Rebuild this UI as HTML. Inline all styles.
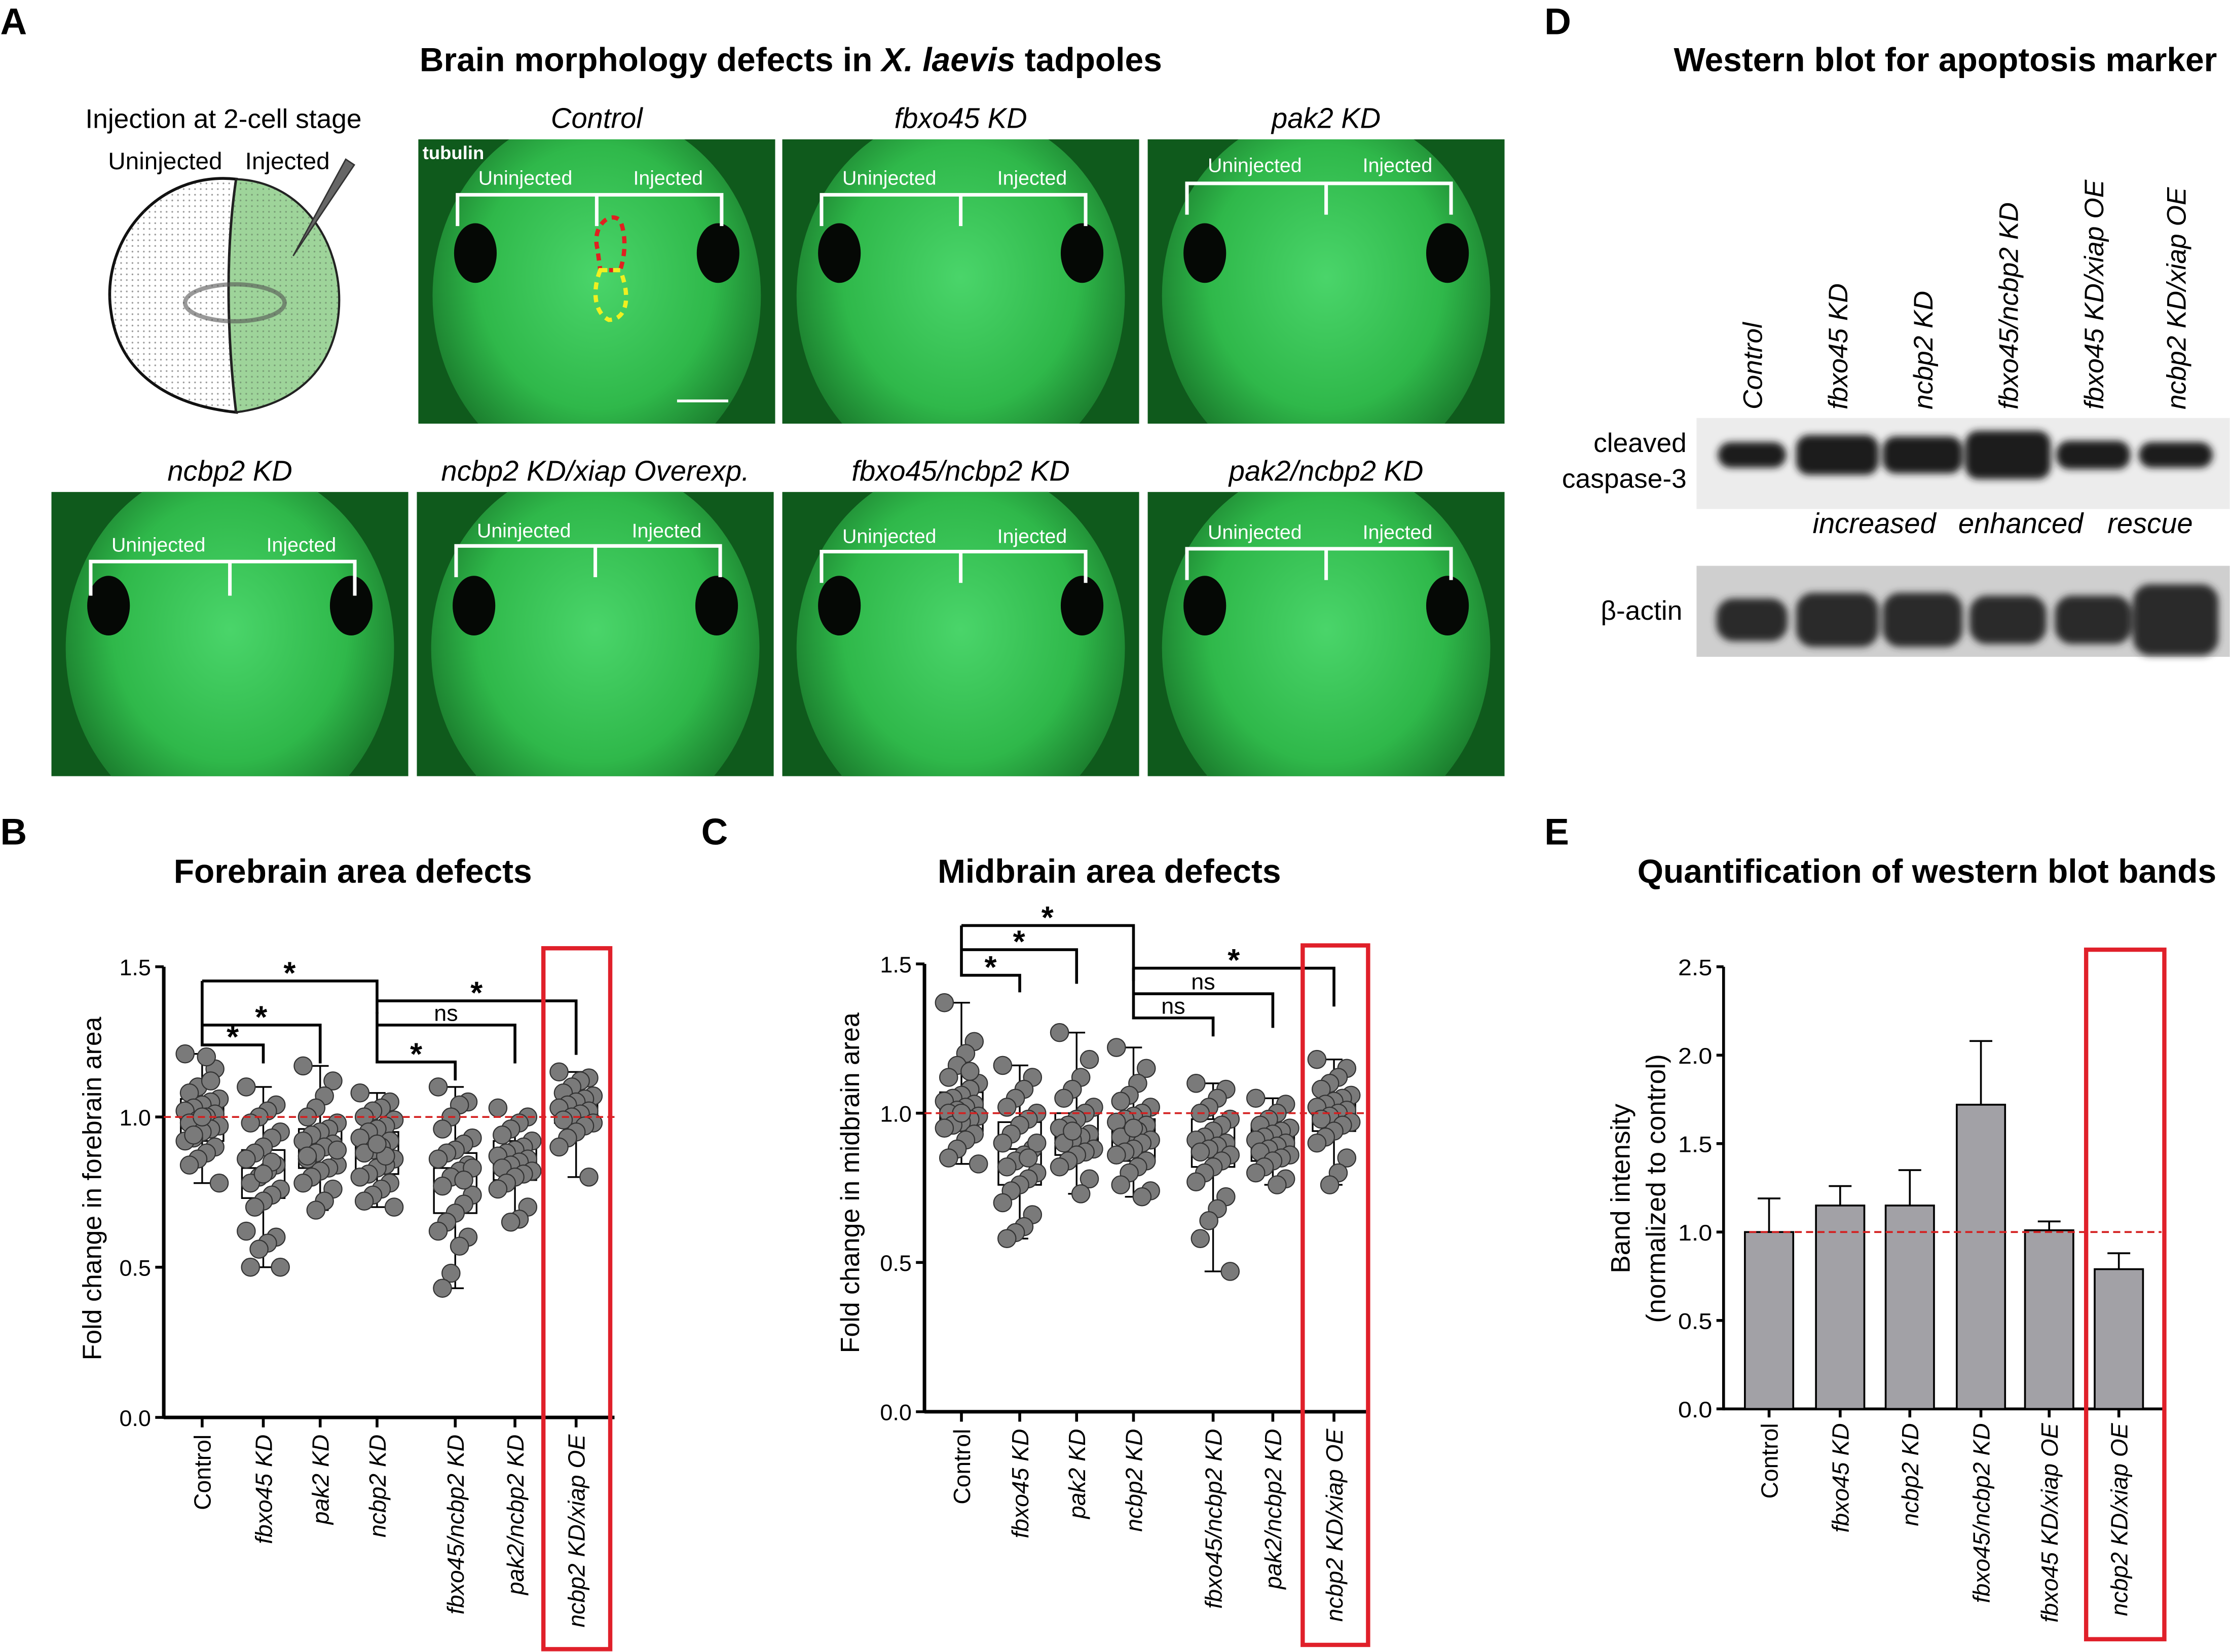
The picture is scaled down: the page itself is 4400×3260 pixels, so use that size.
<!DOCTYPE html>
<html><head><meta charset="utf-8">
<style>
html,body{margin:0;padding:0;background:#fff}
svg{display:block}
text{font-family:"Liberation Sans",sans-serif;fill:#000}
.it{font-style:italic}
.b{font-weight:bold}
</style></head>
<body>
<svg id="fig" width="4400" height="3260" viewBox="0 0 1568 1162" xmlns="http://www.w3.org/2000/svg">
<defs>
<radialGradient id="gh" cx="50%" cy="45%" r="55%">
<stop offset="0" stop-color="#4ad56a"/><stop offset="0.65" stop-color="#2fb84a"/><stop offset="1" stop-color="#1a7a2c"/>
</radialGradient>
<pattern id="dots" width="4" height="4" patternUnits="userSpaceOnUse"><circle cx="1" cy="1" r="0.6" fill="#333"/></pattern>
<filter id="blur" x="-20%" y="-50%" width="140%" height="200%"><feGaussianBlur stdDeviation="2.5"/></filter>
</defs>
<g id="panelA">
<text x="0" y="24" font-size="26" class="b">A</text>
<text x="556" y="50" font-size="23.5" class="b" text-anchor="middle">Brain morphology defects in <tspan class="it">X. laevis</tspan> tadpoles</text>
<text x="157" y="90" font-size="19" text-anchor="middle">Injection at 2-cell stage</text>
<text x="116" y="119" font-size="17" text-anchor="middle">Uninjected</text>
<text x="202" y="119" font-size="17" text-anchor="middle">Injected</text>
<g>
<path d="M166,126 C110,120 70,170 78,220 C84,262 118,285 166,290 C160,240 158,180 166,126 Z" fill="#fff" stroke="#111" stroke-width="2"/>
<path d="M166,126 C110,120 70,170 78,220 C84,262 118,285 166,290 C160,240 158,180 166,126 Z" fill="url(#dots)" opacity="0.5"/>
<path d="M166,126 C215,128 242,175 238,220 C234,262 205,285 166,290 C160,240 158,180 166,126 Z" fill="#9ed49a" stroke="#222" stroke-width="1.5"/>
<path d="M166,126 C215,128 242,175 238,220 C234,262 205,285 166,290 C160,240 158,180 166,126 Z" fill="url(#dots)" opacity="0.35"/>
<ellipse cx="165" cy="213" rx="35" ry="13" fill="none" stroke="#555" stroke-width="3" opacity="0.6"/>
<polygon points="206,180 243,112 249,116" fill="#666" stroke="#333" stroke-width="1"/>
</g>
</g>
<g id="micros"></g>
<g id="panelD">
<text x="1086" y="24" font-size="26" class="b">D</text>
<text x="1368" y="50" font-size="23.5" class="b" text-anchor="middle">Western blot for apoptosis marker</text>
<g id="lanes"></g>
<rect x="1193" y="294" width="375" height="64" fill="#ececec"/>
<rect x="1193" y="398" width="375" height="64" fill="#cfcfcf"/>
<g id="bands" filter="url(#blur)"></g>
<text x="1186" y="318" font-size="19" text-anchor="end">cleaved</text>
<text x="1186" y="343" font-size="19" text-anchor="end">caspase-3</text>
<text x="1183" y="436" font-size="19" text-anchor="end">β-actin</text>
<text x="1318" y="375" font-size="20" class="it" text-anchor="middle">increased</text>
<text x="1421" y="375" font-size="20" class="it" text-anchor="middle">enhanced</text>
<text x="1512" y="375" font-size="20" class="it" text-anchor="middle">rescue</text>
</g>
<g id="chartB"></g>
<g id="chartC"></g>
<g id="chartE"></g>
</svg>
<script>
// ---------- DATA ----------
const catsBC = ["Control","fbxo45 KD","pak2 KD","ncbp2 KD","fbxo45/ncbp2 KD","pak2/ncbp2 KD","ncbp2 KD/xiap OE"];
const foreMin = [0.78,0.50,0.69,0.70,0.43,0.65,0.80];
const foreQ1  = [0.92,0.73,0.83,0.81,0.68,0.79,0.98];
const foreMed = [1.00,0.83,0.90,0.88,0.83,0.85,1.01];
const foreQ3  = [1.06,0.89,0.96,0.95,0.88,0.92,1.05];
const foreMax = [1.21,1.10,1.17,1.08,1.10,1.00,1.15];
const forePts = [
 [1.21,1.16,1.2,1.1,1.08,1.06,1.05,1.04,1.03,1.02,1.01,1.0,0.99,0.98,0.97,0.96,0.95,0.93,0.92,0.9,0.88,0.86,0.84,0.78,1.12,1.0,0.94],
 [1.1,1.04,1.02,1.0,0.98,0.95,0.93,0.9,0.88,0.86,0.84,0.82,0.8,0.78,0.76,0.74,0.72,0.7,0.62,0.6,0.58,0.56,0.5,0.5,0.85,0.81],
 [1.17,1.12,1.07,1.03,1.0,0.98,0.96,0.95,0.94,0.92,0.91,0.9,0.88,0.86,0.84,0.83,0.82,0.8,0.78,0.76,0.72,0.69,0.87,0.89],
 [1.08,1.05,1.03,1.02,1.0,0.99,0.97,0.96,0.95,0.93,0.92,0.9,0.89,0.88,0.86,0.84,0.83,0.81,0.8,0.78,0.76,0.74,0.72,0.7,0.87,0.91],
 [1.1,1.05,1.04,1.0,0.96,0.93,0.91,0.89,0.88,0.86,0.84,0.82,0.8,0.77,0.74,0.71,0.68,0.65,0.62,0.6,0.57,0.48,0.43,0.83,0.79],
 [1.03,1.0,0.98,0.96,0.94,0.92,0.9,0.89,0.88,0.87,0.86,0.85,0.84,0.83,0.82,0.81,0.8,0.78,0.76,0.7,0.66,0.65],
 [1.15,1.13,1.12,1.1,1.08,1.07,1.06,1.05,1.04,1.03,1.02,1.01,1.0,0.99,0.98,0.97,0.95,0.93,0.9,0.8]
];
const midMin = [0.83,0.58,0.73,0.72,0.47,0.76,0.76];
const midQ1  = [0.94,0.76,0.86,0.84,0.82,0.84,0.94];
const midMed = [1.0,0.88,0.92,0.92,0.9,0.9,1.0];
const midQ3  = [1.07,0.97,1.0,0.98,0.98,0.96,1.04];
const midMax = [1.37,1.16,1.27,1.22,1.1,1.05,1.18];
const midPts = [
 [1.37,1.24,1.2,1.16,1.12,1.1,1.08,1.06,1.05,1.04,1.03,1.02,1.01,1.0,0.99,0.98,0.97,0.96,0.95,0.93,0.91,0.88,0.85,0.83,1.14,1.0],
 [1.16,1.12,1.08,1.05,1.02,1.0,0.98,0.96,0.93,0.9,0.88,0.86,0.84,0.82,0.8,0.78,0.76,0.74,0.7,0.66,0.62,0.6,0.58,0.9,0.85],
 [1.27,1.18,1.12,1.08,1.05,1.02,1.0,0.98,0.96,0.95,0.93,0.92,0.91,0.9,0.88,0.87,0.86,0.84,0.82,0.78,0.73,0.94],
 [1.22,1.15,1.1,1.06,1.04,1.02,1.0,0.99,0.98,0.97,0.96,0.94,0.93,0.92,0.91,0.9,0.88,0.87,0.86,0.84,0.82,0.8,0.76,0.74,0.72,0.95],
 [1.1,1.08,1.05,1.02,1.0,0.98,0.96,0.94,0.92,0.91,0.9,0.89,0.88,0.87,0.86,0.84,0.82,0.8,0.77,0.72,0.68,0.64,0.58,0.47],
 [1.05,1.03,1.0,0.98,0.96,0.95,0.94,0.93,0.92,0.91,0.9,0.89,0.88,0.87,0.86,0.85,0.84,0.82,0.8,0.78,0.76],
 [1.18,1.15,1.12,1.1,1.08,1.06,1.05,1.04,1.03,1.02,1.01,1.0,0.99,0.98,0.97,0.96,0.94,0.92,0.9,0.85,0.8,0.76]
];
const catsE = ["Control","fbxo45 KD","ncbp2 KD","fbxo45/ncbp2 KD","fbxo45 KD/xiap OE","ncbp2 KD/xiap OE"];
const barVals = [1.0,1.15,1.15,1.72,1.01,0.79];
const barErr  = [0.19,0.11,0.20,0.36,0.05,0.09];
const ticksBC = [0,0.5,1.0,1.5];
const tickLabelsBC = ["0.0","0.5","1.0","1.5"];
const ticksE = [0,0.5,1.0,1.5,2.0,2.5];
const tickLabelsE = ["0.0","0.5","1.0","1.5","2.0","2.5"];
const sigB = [[0,1,"*"],[0,2,"*"],[0,3,"*"],[3,4,"*"],[3,5,"ns"],[3,6,"*"]];
const sigC = [[0,1,"*"],[0,2,"*"],[0,3,"*"],[3,4,"ns"],[3,5,"ns"],[3,6,"*"]];

const NS="http://www.w3.org/2000/svg";
function mk(parent,tag,attrs,txt){const e=document.createElementNS(NS,tag);for(const k in attrs)e.setAttribute(k,attrs[k]);if(txt!==undefined)e.textContent=txt;parent.appendChild(e);return e;}

// ---------- micrographs ----------
const micros=document.getElementById('micros');
const defs=document.querySelector('defs');
const mic=[
 {x:294,y:98,w:251,h:200,t:"Control",by:137,bh:22,lab:130},
 {x:550,y:98,w:251,h:200,t:"fbxo45 KD",by:137,bh:22,lab:130},
 {x:807,y:98,w:251,h:200,t:"pak2 KD",by:129,bh:22,lab:121},
 {x:36,y:346,w:251,h:200,t:"ncbp2 KD",by:395,bh:24,lab:388},
 {x:293,y:346,w:251,h:200,t:"ncbp2 KD/xiap Overexp.",by:384,bh:22,lab:378},
 {x:550,y:346,w:251,h:200,t:"fbxo45/ncbp2 KD",by:388,bh:22,lab:382},
 {x:807,y:346,w:251,h:200,t:"pak2/ncbp2 KD",by:386,bh:22,lab:379}
];
mic.forEach((m,i)=>{
 const cp=mk(defs,'clipPath',{id:'cp'+i});
 mk(cp,'rect',{x:m.x,y:m.y,width:m.w,height:m.h});
 const g=mk(micros,'g',{"clip-path":`url(#cp${i})`});
 
 
 mk(g,'rect',{x:m.x,y:m.y,width:m.w,height:m.h,fill:"#0f5a1c"});
 mk(g,'ellipse',{cx:m.x+m.w/2,cy:m.y+m.h*0.55,rx:m.w*0.46,ry:m.h*0.65,fill:"url(#gh)"});
 mk(g,'ellipse',{cx:m.x+m.w*0.16,cy:m.y+m.h*0.4,rx:15,ry:21,fill:"#050805"});
 mk(g,'ellipse',{cx:m.x+m.w*0.84,cy:m.y+m.h*0.4,rx:15,ry:21,fill:"#050805"});
 mk(g,'path',{d:`M${m.x+m.w*0.11},${m.by+m.bh} V${m.by} H${m.x+m.w*0.85} V${m.by+m.bh} M${m.x+m.w*0.5},${m.by} V${m.by+m.bh}`,stroke:"#fff","stroke-width":2.5,fill:"none"});
 mk(g,'text',{x:m.x+m.w*0.3,y:m.lab,"font-size":14,"text-anchor":"middle",style:"fill:#fff"},"Uninjected");
 mk(g,'text',{x:m.x+m.w*0.7,y:m.lab,"font-size":14,"text-anchor":"middle",style:"fill:#fff"},"Injected");
 const t=mk(micros,'text',{x:m.x+m.w/2,y:m.y-8,"font-size":20,"text-anchor":"middle",class:"it"},m.t);
 
 
});
mk(micros,'text',{x:297,y:112,"font-size":13,class:"b",style:"fill:#fff"},"tubulin");
mk(micros,'line',{x1:476,y1:282,x2:512,y2:282,stroke:"#fff","stroke-width":2});
mk(micros,'path',{d:"M420,175 C416,160 428,148 436,155 C440,165 440,178 436,190 L422,190 Z",fill:"none",stroke:"#e02020","stroke-width":3,"stroke-dasharray":"5,4"});
mk(micros,'path',{d:"M422,190 C416,205 418,220 428,225 C440,225 444,210 436,190 Z",fill:"none",stroke:"#f0f020","stroke-width":3,"stroke-dasharray":"5,4"});

// ---------- western ----------
const laneX=[1232,1292,1352,1412,1472,1530];
const lanes=document.getElementById('lanes'), bands=document.getElementById('bands');
const bandW=[48,58,56,60,52,52], bandH=[18,28,26,34,20,18], actW=[50,58,56,54,54,60], actH=[30,38,38,34,34,50];
catsE.forEach((c,i)=>{
 const t=mk(lanes,'text',{x:0,y:0,"font-size":19,class:"it",transform:`translate(${laneX[i]+7},288) rotate(-90)`},c);
 
 
 mk(bands,'rect',{x:laneX[i]-bandW[i]/2,y:320-bandH[i]/2,width:bandW[i],height:bandH[i],rx:9,fill:"#1a1a1a"});
 mk(bands,'rect',{x:laneX[i]-actW[i]/2,y:436-actH[i]/2,width:actW[i],height:actH[i],rx:12,fill:"#2a2a2a"});
});

// ---------- box charts ----------
function boxChart(gid,o){
 const g=document.getElementById(gid);
 const y=v=>o.y0-(v/1.5)*(o.y0-o.y15);
 const x=i=>o.xs[i];
 mk(g,'text',{x:o.lx,y:594,"font-size":26,class:"b"},o.letter);
 mk(g,'text',{x:o.tx,y:621,"font-size":23.5,class:"b","text-anchor":"middle"},o.title);
 const yt=mk(g,'text',{x:0,y:0,"font-size":18.5,"text-anchor":"middle",transform:`translate(${o.ylx},${o.ylY}) rotate(-90)`},o.ylabel);
 
 
 mk(g,'line',{x1:o.ax,y1:o.y15,x2:o.ax,y2:o.y0+1,stroke:"#000","stroke-width":2.5});
 mk(g,'line',{x1:o.ax,y1:o.y0,x2:o.xend,y2:o.y0,stroke:"#000","stroke-width":2.5});
 ticksBC.forEach((t,i)=>{
  mk(g,'line',{x1:o.ax-6,y1:y(t),x2:o.ax,y2:y(t),stroke:"#000","stroke-width":2});
  mk(g,'text',{x:o.ax-9,y:y(t)+6,"font-size":16,"text-anchor":"end"},tickLabelsBC[i]);
 });
 catsBC.forEach((c,i)=>{
  mk(g,'line',{x1:x(i),y1:o.y0,x2:x(i),y2:o.y0+7,stroke:"#000","stroke-width":2});
  const t=mk(g,'text',{x:0,y:0,"font-size":16.5,"text-anchor":"end",class:i==0?"":"it",transform:`translate(${x(i)+6},${o.y0+12}) rotate(-90)`},c);
  
  
  const bg=mk(g,'g',{});
  
  
  mk(bg,'line',{x1:x(i),y1:y(o.mn[i]),x2:x(i),y2:y(o.mx[i]),stroke:"#000","stroke-width":1.2});
  mk(bg,'line',{x1:x(i)-6,y1:y(o.mn[i]),x2:x(i)+6,y2:y(o.mn[i]),stroke:"#000","stroke-width":1.2});
  mk(bg,'line',{x1:x(i)-6,y1:y(o.mx[i]),x2:x(i)+6,y2:y(o.mx[i]),stroke:"#000","stroke-width":1.2});
  mk(bg,'rect',{x:x(i)-15,y:y(o.q3[i]),width:30,height:y(o.q1[i])-y(o.q3[i]),fill:"#fff",stroke:"#000","stroke-width":1.2});
  mk(bg,'line',{x1:x(i)-15,y1:y(o.md[i]),x2:x(i)+15,y2:y(o.md[i]),stroke:"#000","stroke-width":1.2});
  o.pts[i].forEach((v,k)=>{
   const off=((k*7)%9-4)*3.0;
   const p=mk(bg,'circle',{cx:x(i)+off,cy:y(v),r:6.3,fill:"#7a7a7a",stroke:"#333","stroke-width":0.8});
   
   
  });
 });
 mk(g,'line',{x1:o.ax,y1:y(1),x2:o.xend,y2:y(1),stroke:"#d42020","stroke-width":1.3,"stroke-dasharray":"5,3"});
 o.sig.forEach((s,k)=>{
  const yy=o.sigY[k];
  mk(g,'path',{d:`M${x(s[0])},${yy+o.drop[k][0]} V${yy} H${x(s[1])} V${yy+o.drop[k][1]}`,fill:"none",stroke:"#000","stroke-width":2});
  mk(g,'text',{x:(x(s[0])+x(s[1]))/2,y:s[2]=="*"?yy+2:yy-3,"font-size":s[2]=="*"?22:16,"text-anchor":"middle",class:s[2]=="*"?"b":""},s[2]);
 });
 const rb=mk(g,'rect',{x:o.rb[0],y:o.rb[1],width:o.rb[2],height:o.rb[3],fill:"none",stroke:"#e0202a","stroke-width":3});
 
 
}
boxChart('chartB',{letter:"B",lx:0,tx:248,title:"Forebrain area defects",ylabel:"Fold change in forebrain area",ylx:71,ylY:836,
 ax:115,y0:997,y15:680,xend:432,xs:[142,185,225,265,320,362,405],
 mn:foreMin,q1:foreQ1,md:foreMed,q3:foreQ3,mx:foreMax,pts:forePts,sig:sigB,
 sigY:[735,721,690,747,721,704],drop:[[-45,13],[0,27],[0,23],[-35,13],[0,27],[0,38]],rb:[382,667,47,493]});
boxChart('chartC',{letter:"C",lx:493,tx:780,title:"Midbrain area defects",ylabel:"Fold change in midbrain area",ylx:604,ylY:832,
 ax:650,y0:993,y15:678,xend:962,xs:[676,717,757,797,853,895,938],
 mn:midMin,q1:midQ1,md:midMed,q3:midQ3,mx:midMax,pts:midPts,sig:sigC,
 sigY:[686,668,651,716,699,681],drop:[[-35,12],[0,24],[0,39],[-35,13],[0,24],[0,27]],rb:[916,665,46,492]});

// ---------- bar chart E ----------
(function(){
 const g=document.getElementById('chartE');
 const ax=1212,y0=991,yT=680;
 const y=v=>y0-(v/2.5)*(y0-yT);
 const xs=[1244,1294,1343,1393,1441,1490];
 mk(g,'text',{x:1086,y:594,"font-size":26,class:"b"},"E");
 mk(g,'text',{x:1355,y:621,"font-size":23.5,class:"b","text-anchor":"middle"},"Quantification of western blot bands");
 const t1=mk(g,'text',{x:0,y:0,"font-size":19,"text-anchor":"middle",transform:"translate(1146,836) rotate(-90)"},"Band intensity");
 
 
 mk(g,'text',{x:0,y:0,"font-size":19,"text-anchor":"middle",transform:"translate(1171,836) rotate(-90)"},"(normalized to control)");
 mk(g,'line',{x1:ax,y1:yT,x2:ax,y2:y0+1,stroke:"#000","stroke-width":2});
 mk(g,'line',{x1:ax,y1:y0,x2:1522,y2:y0,stroke:"#000","stroke-width":2});
 ticksE.forEach((t,i)=>{
  mk(g,'line',{x1:ax-5,y1:y(t),x2:ax,y2:y(t),stroke:"#000","stroke-width":2});
  mk(g,'text',{x:ax-8,y:y(t)+6,"font-size":16,"text-anchor":"end",textLength:24,lengthAdjust:"spacingAndGlyphs"},tickLabelsE[i]);
 });
 catsE.forEach((c,i)=>{
  const b=mk(g,'rect',{x:xs[i]-17,y:y(barVals[i]),width:34,height:y0-y(barVals[i]),fill:"#a2a1a6",stroke:"#000","stroke-width":1.3});
  
  
  mk(g,'path',{d:`M${xs[i]},${y(barVals[i])} V${y(barVals[i]+barErr[i])} M${xs[i]-8},${y(barVals[i]+barErr[i])} H${xs[i]+8}`,stroke:"#000","stroke-width":1.3,fill:"none"});
  mk(g,'line',{x1:xs[i],y1:y0,x2:xs[i],y2:y0+6,stroke:"#000","stroke-width":2});
  const t=mk(g,'text',{x:0,y:0,"font-size":16.5,"text-anchor":"end",class:i==0?"":"it",transform:`translate(${xs[i]+6},${y0+10}) rotate(-90)`},c);
  
  
 });
 mk(g,'line',{x1:ax+18,y1:y(1),x2:1520,y2:y(1),stroke:"#d42020","stroke-width":1.3,"stroke-dasharray":"5,3"});
 const rb=mk(g,'rect',{x:1467,y:668,width:55,height:485,fill:"none",stroke:"#e0202a","stroke-width":3});
 
 
})();
</script>
</body></html>
